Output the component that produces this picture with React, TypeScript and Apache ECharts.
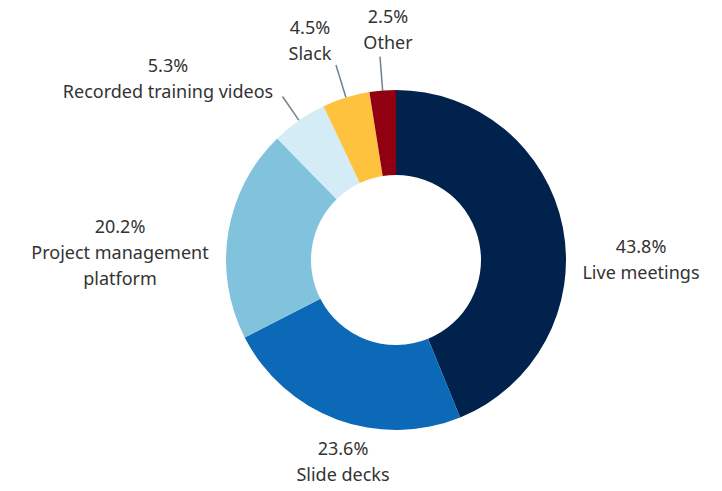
import * as echarts from "echarts";
import { useEffect, useRef } from "react";

const channels = [
  "Live meetings",
  "Slide decks",
  "Project management platform",
  "Recorded training videos",
  "Slack",
  "Other"
];
const shares = [43.8, 23.6, 20.2, 5.3, 4.5, 2.5];
const sliceColors = ["#00224c", "#0b69b7", "#81c3dc", "#d3ecf5", "#ffc23e", "#900010"];
// small slices get a leader line
const withLeader = [false, false, false, true, true, true];

const CX = 396;
const CY = 260;

// label block centres, relative to the pie centre
const labelSpots: [number, number][] = [
  [245, -1],
  [-53, 201],
  [-276, -8],
  [-228, -182],
  [-86, -220],
  [-8, -231]
];

export default function App() {
  const chartRef = useRef<HTMLDivElement | null>(null);

  useEffect(() => {
    document.body.style.margin = "0";
    if (!chartRef.current) {
      return;
    }
    const chart = echarts.init(chartRef.current, undefined, { renderer: "svg" });
    chart.setOption({
      animation: false,
      series: [
        {
          type: "pie",
          center: [CX, CY],
          radius: [85, 170],
          startAngle: 90,
          clockwise: true,
          avoidLabelOverlap: false,
          label: {
            show: true,
            position: "outside",
            formatter: (p: any) => `${p.value}%\n${p.name === channels[2] ? "Project management\nplatform" : p.name}`,
            fontFamily: "Noto Sans",
            fontSize: 18,
            lineHeight: 26,
            color: "#333333",
            align: "center"
          },
          labelLine: {
            show: false,
            length: 34,
            length2: 0,
            lineStyle: { color: "#6f8091", width: 1.5 }
          },
          labelLayout: (params: any) => {
            const [dx, dy] = labelSpots[params.dataIndex];
            return {
              x: CX + dx,
              y: CY + dy,
              align: "center",
              verticalAlign: "middle",
              labelLinePoints: params.labelLinePoints
            };
          },
          emphasis: { disabled: true },
          data: channels.map((name, i) => ({
            name,
            value: shares[i],
            itemStyle: { color: sliceColors[i] },
            labelLine: { show: withLeader[i], length: i === 3 ? 29 : 34 }
          }))
        }
      ]
    });
    return () => {
      chart.dispose();
    };
  }, []);

  return <div ref={chartRef} style={{ width: 722, height: 491 }} />;
}
